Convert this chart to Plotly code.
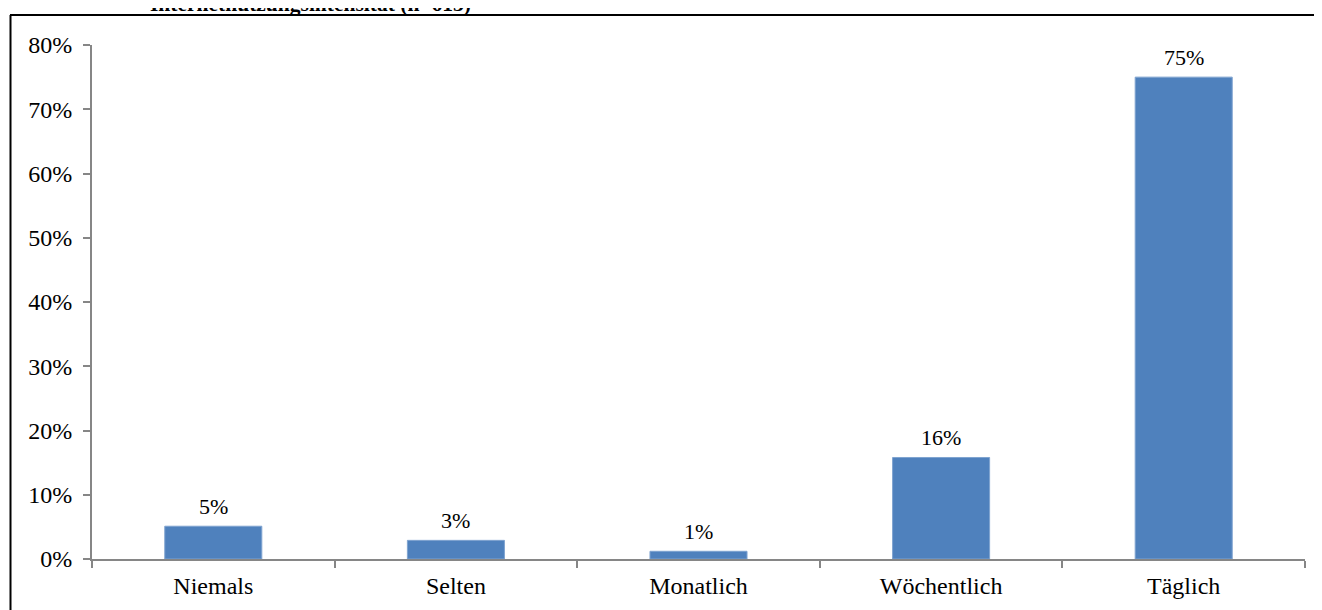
import plotly.graph_objects as go

categories = ["Niemals", "Selten", "Monatlich", "Wöchentlich", "Täglich"]
values = [0.051, 0.029, 0.012, 0.158, 0.750]
labels = ["5%", "3%", "1%", "16%", "75%"]
title_text = "Internetnutzungsintensität (n=613)"

W, H = 1322, 610
L, R, T, B = 84, 25, 37, 59
pw, ph = W - L - R, H - T - B

def px_x(px):
    return (px - L) / pw

def px_y(py):
    return (H - B - py) / ph

font = "Liberation Serif, Times New Roman, serif"

fig = go.Figure(go.Bar(
    x=categories, y=values,
    marker=dict(color="#4F81BD", line=dict(color="#7FA3D0", width=1)),
    hoverinfo="x+y",
))

annotations = [
    dict(x=c, y=v, text=t, xref="x", yref="y", xanchor="center", yanchor="bottom",
         yshift=5, showarrow=False, font=dict(family=font, size=22, color="black"))
    for c, v, t in zip(categories, values, labels)
]
annotations.append(
    dict(text="<b>" + title_text + "</b>", xref="paper", yref="paper",
         x=px_x(140), y=px_y(10), xanchor="left", yanchor="bottom",
         showarrow=False, font=dict(family=font, size=21.5, color="black"))
)

fig.update_layout(
    width=W, height=H,
    margin=dict(l=L, r=R, t=T, b=B, pad=0),
    paper_bgcolor="white", plot_bgcolor="white",
    bargap=0.6, showlegend=False,
    font=dict(family=font, size=24, color="black"),
    xaxis=dict(showline=True, linecolor="#868686", linewidth=2,
               ticks="outside", tickson="boundaries", ticklen=7,
               tickcolor="#868686", tickwidth=2, showgrid=False,
               ticklabelstandoff=4,
               tickfont=dict(family=font, size=24, color="black")),
    yaxis=dict(range=[0, 0.8], dtick=0.1, tickformat=".0%",
               showline=True, linecolor="#868686", linewidth=2,
               ticks="outside", ticklen=7, tickcolor="#868686", tickwidth=2,
               showgrid=False, zeroline=False, ticklabelstandoff=6,
               tickfont=dict(family=font, size=24, color="black")),
    shapes=[
        dict(type="line", xref="paper", yref="paper",
             x0=px_x(2), x1=px_x(W + 5), y0=px_y(7), y1=px_y(7),
             line=dict(color="black", width=2)),
        dict(type="line", xref="paper", yref="paper",
             x0=px_x(2.5), x1=px_x(2.5), y0=px_y(7), y1=px_y(H + 5),
             line=dict(color="black", width=2)),
    ],
    annotations=annotations,
)

fig.write_html("out.html")
